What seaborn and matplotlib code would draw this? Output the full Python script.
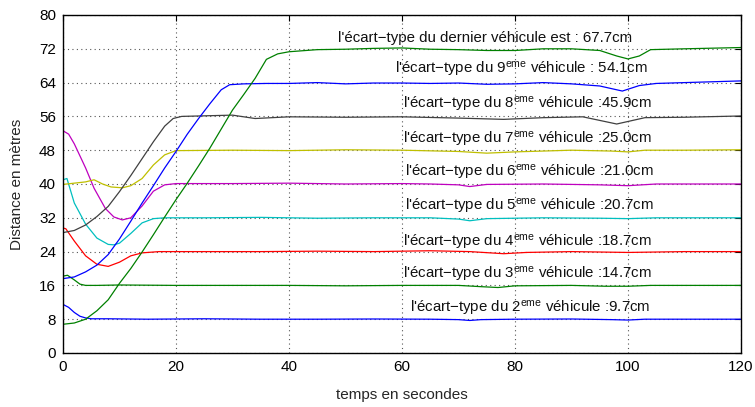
import matplotlib
matplotlib.use("Agg")
import matplotlib.pyplot as plt
import seaborn as sns
import pandas as pd

# ---- data ----
t2 = [0, 1, 2, 3, 4, 5, 8, 15, 25, 35, 45, 55, 65, 70, 72, 74, 80, 90, 97, 100, 103, 110, 120]
y2 = [11.5, 10.8, 9.6, 8.7, 8.3, 8.1, 8.1, 8.0, 8.1, 8.0, 8.0, 8.05, 8.0, 7.9, 7.7, 7.9, 8.0, 8.05, 7.9, 7.8, 8.0, 8.0, 8.0]

t3 = [0, 0.8, 2, 3, 4, 6, 10, 20, 30, 40, 50, 60, 70, 74, 77, 80, 90, 96, 100, 104, 110, 120]
y3 = [18.2, 18.4, 17.3, 16.3, 16.0, 16.0, 16.1, 16.0, 16.0, 16.0, 15.9, 16.0, 16.0, 15.7, 15.5, 15.9, 16.0, 15.8, 15.8, 16.0, 16.0, 16.0]

t4 = [0, 0.5, 2, 4, 6, 8, 10, 12, 14, 17, 25, 35, 45, 55, 65, 72, 78, 82, 90, 100, 110, 120]
y4 = [29.6, 29.4, 26.5, 23.0, 21.0, 20.5, 21.5, 23.0, 23.7, 24.0, 24.0, 24.0, 24.1, 24.0, 24.2, 24.0, 23.5, 23.8, 24.0, 23.8, 24.0, 24.0]

t5 = [0, 0.7, 2, 4, 6, 8, 9, 10, 12, 14, 16, 18, 25, 35, 45, 55, 65, 70, 72, 75, 85, 95, 100, 105, 120]
y5 = [41.0, 41.3, 35.5, 30.5, 27.2, 25.7, 25.6, 26.0, 28.3, 30.8, 31.8, 32.0, 32.0, 32.1, 31.9, 32.0, 32.0, 31.7, 31.3, 31.8, 32.0, 31.9, 31.8, 32.0, 32.0]

t6 = [0, 1, 2, 4, 5.5, 7.5, 9, 10.5, 12, 14, 16, 18, 20, 30, 40, 50, 60, 65, 70, 72, 75, 85, 95, 100, 105, 120]
y6 = [52.6, 51.8, 49.5, 43.8, 39.0, 34.2, 32.2, 31.5, 32.0, 34.8, 38.3, 39.8, 40.1, 40.1, 40.2, 40.0, 40.1, 40.0, 39.8, 39.4, 39.9, 40.0, 39.8, 39.6, 40.0, 40.0]

t7 = [0, 2, 4, 5.5, 7, 8.5, 10.5, 12, 14, 16, 18, 20, 30, 40, 50, 60, 70, 75, 80, 90, 97, 100, 103, 110, 120]
y7 = [39.9, 40.2, 40.5, 41.0, 40.0, 39.3, 39.1, 39.6, 41.3, 44.5, 46.9, 47.9, 48.0, 47.9, 48.1, 48.0, 47.7, 47.3, 47.6, 48.0, 47.8, 47.6, 48.0, 48.0, 48.1]

t8 = [0, 2, 4, 6, 8, 10, 12, 14, 16, 18, 19.5, 21, 30, 34, 40, 50, 60, 70, 78, 85, 92, 98, 103, 110, 120]
y8 = [28.5, 29.0, 30.3, 32.3, 34.7, 38.2, 42.0, 46.0, 50.0, 53.7, 55.5, 56.0, 56.3, 55.5, 55.9, 55.8, 55.9, 55.6, 55.3, 55.7, 55.9, 54.2, 55.7, 55.8, 56.1]

t9 = [0, 2, 4, 6, 8, 10, 12, 14, 16, 18, 20, 22, 24, 26, 28, 29.5, 32, 36, 40, 45, 50, 55, 60, 65, 70, 75, 80, 85, 90, 95, 99, 102, 105, 110, 120]
y9 = [17.6, 18.0, 19.2, 20.8, 23.3, 27.0, 31.2, 35.5, 39.6, 43.8, 47.7, 51.8, 55.5, 59.0, 62.3, 63.5, 63.7, 63.8, 63.8, 64.0, 63.7, 63.9, 63.9, 63.8, 63.9, 63.6, 63.7, 64.0, 63.7, 63.2, 62.0, 63.3, 63.8, 64.0, 64.4]

t10 = [0, 2, 4, 6, 8, 10, 12, 14, 16, 18, 20, 22, 24, 26, 28, 30, 32, 34, 36, 38, 40, 45, 50, 55, 60, 65, 70, 75, 80, 85, 90, 95, 98, 100, 102, 104, 110, 120]
y10 = [6.8, 7.1, 8.0, 10.0, 12.6, 16.5, 20.0, 23.9, 28.0, 32.2, 36.3, 40.2, 44.3, 48.5, 53.0, 57.5, 61.2, 65.0, 69.5, 70.8, 71.3, 71.8, 71.9, 72.1, 72.2, 71.9, 71.8, 71.6, 71.6, 72.0, 72.0, 71.6, 70.3, 69.6, 70.3, 71.8, 72.0, 72.3]

vehicles = ["2", "3", "4", "5", "6", "7", "8", "9", "10"]
series_t = [t2, t3, t4, t5, t6, t7, t8, t9, t10]
series_y = [y2, y3, y4, y5, y6, y7, y8, y9, y10]
colors = ["#0000ff", "#008000", "#ff0000", "#00bfbf", "#bf00bf", "#bfbf00", "#404040", "#0000ff", "#008000"]

labels = [
    r"l'écart−type du 2$^{\mathrm{eme}}$ véhicule :9.7cm",
    r"l'écart−type du 3$^{\mathrm{eme}}$ véhicule :14.7cm",
    r"l'écart−type du 4$^{\mathrm{eme}}$ véhicule :18.7cm",
    r"l'écart−type du 5$^{\mathrm{eme}}$ véhicule :20.7cm",
    r"l'écart−type du 6$^{\mathrm{eme}}$ véhicule :21.0cm",
    r"l'écart−type du 7$^{\mathrm{eme}}$ véhicule :25.0cm",
    r"l'écart−type du 8$^{\mathrm{eme}}$ véhicule :45.9cm",
    r"l'écart−type du 9$^{\mathrm{eme}}$ véhicule : 54.1cm",
    "l'écart−type du dernier véhicule est : 67.7cm",
]
label_x = [61.4, 60.2, 60.2, 60.5, 60.5, 60.2, 60.2, 58.8, 48.7]
label_y = [9.5, 17.5, 25.1, 33.8, 41.7, 49.5, 57.8, 66.2, 73.6]

xticks = [0, 20, 40, 60, 80, 100, 120]
yticks = [0, 8, 16, 24, 32, 40, 48, 56, 64, 72, 80]

# ---- style ----
sns.set_theme(style="white")
plt.rcParams["font.family"] = ["Liberation Sans", "DejaVu Sans"]
plt.rcParams["mathtext.fontset"] = "custom"
plt.rcParams["mathtext.rm"] = "Liberation Sans"
plt.rcParams["mathtext.it"] = "Liberation Sans:italic"
plt.rcParams["mathtext.bf"] = "Liberation Sans:bold"

fig = plt.figure(figsize=(7.55, 4.07), dpi=100)
ax = fig.add_axes([63 / 755, (407 - 353) / 407, 678 / 755, 338 / 407])

for v, tt, yy, c in zip(vehicles, series_t, series_y, colors):
    df = pd.DataFrame({"t": tt, "d": yy})
    sns.lineplot(data=df, x="t", y="d", color=c, linewidth=0.9, ax=ax,
                 estimator=None, sort=False)

for s, lx, ly in zip(labels, label_x, label_y):
    ax.text(lx, ly, s, fontsize=10.8, color="#111111", ha="left", va="baseline")

ax.set_xlim(0, 120)
ax.set_ylim(0, 80)
ax.set_xticks(xticks)
ax.set_yticks(yticks)
ax.tick_params(direction="in", top=True, right=True, length=4, width=0.8,
               labelsize=11, colors="black", pad=5)
ax.grid(True, linestyle=(0, (1, 3)), color="#555555", linewidth=0.8)
for sp in ax.spines.values():
    sp.set_color("black")
    sp.set_linewidth(1.0)
ax.set_xlabel("temps en secondes", fontsize=11, labelpad=10)
ax.set_ylabel("Distance en mètres", fontsize=11, labelpad=11)

fig.savefig("out.png", dpi=100)
